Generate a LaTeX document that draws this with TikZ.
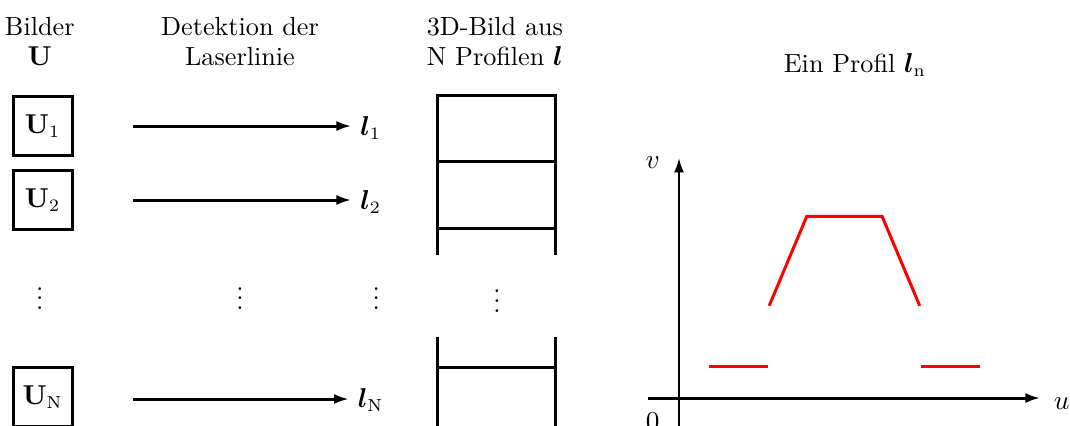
\documentclass[tikz,border=0pt]{standalone}
\usepackage{amsmath}
\usepackage{bm}
\usetikzlibrary{arrows.meta}

\tikzset{
  bildbox/.style={draw, line width=1.2pt, minimum size=0.83cm, inner sep=0pt},
  pfeil/.style={-{Latex[length=6pt,width=4pt]}, line width=1.2pt},
  leiter/.style={line width=1.2pt},
  profil/.style={red, line width=1.2pt}
}

\begin{document}
\begin{tikzpicture}[font=\fontsize{10.5}{12}\selectfont]
  \useasboundingbox (0,0) rectangle (15.07,-5.986);
  \clip (0,0) rectangle (15.07,-5.986);

  % Headings
  \node[align=center] (hbild) at (0.56,-0.58) {Bilder\\$\mathbf{U}$};
  \node[align=center] (hdet) at (3.38,-0.58) {Detektion der\\Laserlinie};
  \node[align=center] (h3d) at (6.97,-0.58) {3D-Bild aus\\N Profilen $\bm{l}$};
  \node (hprofil) at (12.04,-0.92) {Ein Profil $\bm{l}_\mathrm{n}$};

  % Images
  \node[bildbox] (u1) at (0.60,-1.775) {$\mathbf{U}_1$};
  \node[bildbox] (u2) at (0.60,-2.817) {$\mathbf{U}_2$};
  \node[bildbox] (un) at (0.60,-5.59) {$\mathbf{U}_\mathrm{N}$};

  % Profiles
  \node (l1) at (5.22,-1.80) {$\bm{l}_1$};
  \node (l2) at (5.22,-2.84) {$\bm{l}_2$};
  \node (ln) at (5.22,-5.63) {$\bm{l}_\mathrm{N}$};

  % Detection
  \coordinate (s1) at (1.873,-1.775);
  \coordinate (s2) at (1.873,-2.817);
  \coordinate (sn) at (1.873,-5.62);
  \draw[pfeil] (s1) -- (s1 -| l1.west);
  \draw[pfeil] (s2) -- (s2 -| l2.west);
  \draw[pfeil] (sn) -- (sn -| ln.west);

  % Dots
  \node (d1) at (0.56,-4.10) {$\vdots$};
  \node (d2) at (3.38,-4.10) {$\vdots$};
  \node (d3) at (5.30,-4.10) {$\vdots$};
  \node (d4) at (7.00,-4.13) {$\vdots$};

  % 3D image
  \draw[leiter] (6.155,-3.592) -- (6.155,-1.352) -- (7.83,-1.352) -- (7.83,-3.592);
  \draw[leiter] (6.155,-2.268) -- (7.83,-2.268);
  \draw[leiter] (6.155,-3.225) -- (7.83,-3.225);
  \draw[leiter] (6.155,-4.746) -- (6.155,-6.2);
  \draw[leiter] (7.83,-4.746) -- (7.83,-6.2);
  \draw[leiter] (6.155,-5.169) -- (7.83,-5.169);

  % One profile
  \begin{scope}[shift={(9.563,-5.606)}]
    \coordinate (o) at (0,0);
    \coordinate (xend) at (5.09,0);
    \coordinate (yend) at (0,3.39);
    \draw[pfeil] (-0.44,0) -- (xend);
    \draw[pfeil] (0,-0.6) -- (yend);
    \node (lu) at (5.39,-0.08) {$u$};
    \node (lv) at (-0.37,3.31) {$v$};
    \node (l0) at (-0.37,-0.34) {$0$};
    \draw[profil] (0.42,0.44) -- (1.25,0.44);
    \draw[profil] (1.27,1.30) -- (1.80,2.56) -- (2.86,2.56) -- (3.39,1.30);
    \draw[profil] (3.41,0.44) -- (4.24,0.44);
  \end{scope}
\end{tikzpicture}
\end{document}
